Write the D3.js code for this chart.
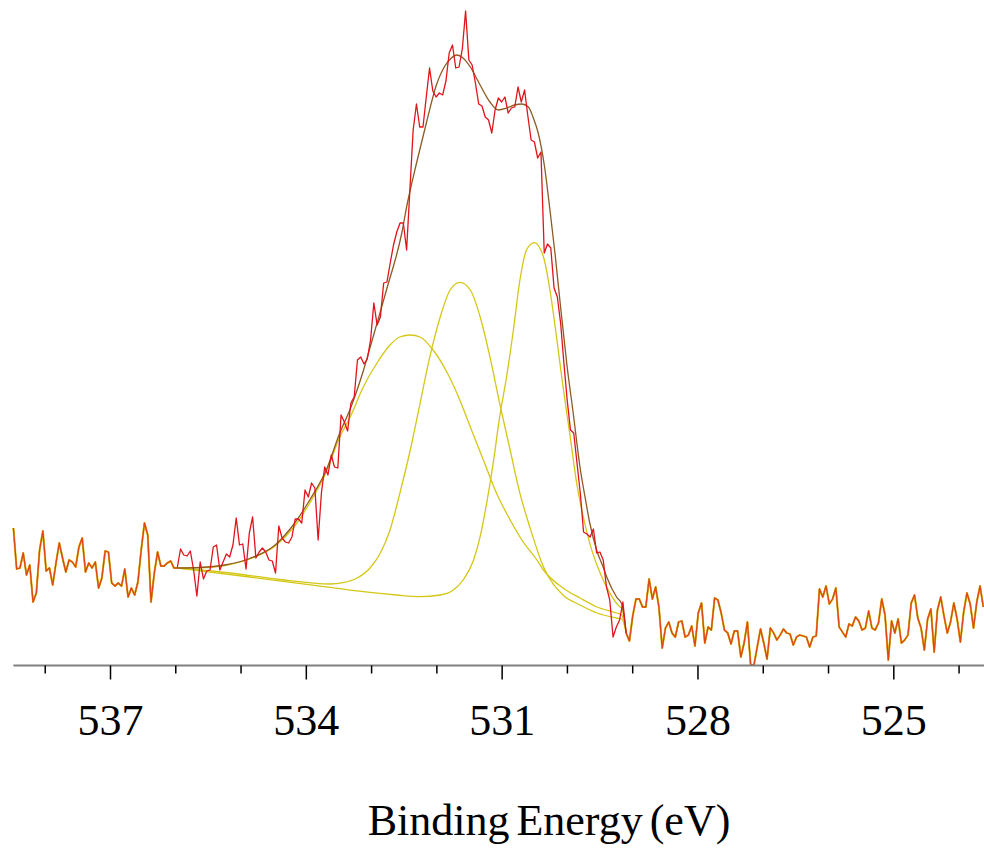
<!DOCTYPE html>
<html>
<head>
<meta charset="utf-8">
<script src="https://cdn.jsdelivr.net/npm/d3@7"></script>
<style>
  html, body { margin: 0; padding: 0; background: #ffffff; }
  svg { display: block; }
</style>
</head>
<body>
<svg id="chart" width="984" height="848"></svg>
<script>
// O 1s spectrum: binding-energy grid (eV) and measured intensity (a.u.)
const energyStart = 538.48;
const energyStep = 0.0502;
const counts = [
  137, 96, 97, 112, 90, 100, 63, 72, 115, 134,
  94, 97, 80, 102, 122, 107, 93, 105, 103, 98,
  118, 127, 93, 102, 97, 103, 77, 87, 114, 113,
  82, 79, 82, 79, 96, 68, 77, 70, 83, 115,
  142, 130, 63, 92, 113, 99, 99, 102, 104, 97,
  97, 116, 110, 109, 114, 95, 69, 103, 86, 94,
  95, 118, 120, 95, 103, 111, 108, 120, 147, 120,
  121, 96, 132, 148, 107, 113, 117, 113, 105, 104,
  92, 139, 127, 123, 122, 128, 146, 146, 142, 175,
  168, 182, 177, 125, 172, 198, 190, 210, 198, 197,
  250, 243, 234, 262, 268, 305, 308, 301, 306, 325,
  362, 340, 348, 382, 383, 402, 420, 433, 442, 442,
  415, 475, 535, 561, 538, 538, 568, 597, 574, 568,
  572, 570, 584, 612, 620, 597, 598, 616, 654, 605,
  600, 582, 561, 559, 548, 545, 532, 555, 567, 563,
  568, 552, 557, 558, 578, 563, 575, 549, 525, 523,
  507, 513, 412, 421, 417, 377, 368, 342, 302, 265,
  235, 232, 202, 172, 133, 131, 128, 136, 112, 113,
  105, 78, 65, 28, 38, 45, 63, 32, 24, 49,
  66, 66, 58, 58, 86, 66, 78, 58, 17, 37,
  43, 32, 28, 43, 44, 28, 30, 39, 19, 52,
  62, 22, 38, 35, 67, 65, 52, 35, 32, 21,
  34, 34, 8, 22, 43, 0, 0, 18, 36, 22,
  6, 37, 32, 25, 30, 36, 32, 31, 20, 28,
  30, 29, 28, 18, 28, 29, 76, 68, 79, 61,
  66, 77, 38, 33, 28, 41, 39, 48, 44, 35,
  37, 54, 37, 35, 42, 66, 50, 5, 44, 32,
  46, 22, 25, 30, 62, 70, 47, 37, 15, 46,
  56, 13, 55, 68, 49, 32, 43, 62, 46, 23,
  53, 72, 61, 37, 63, 79, 58
];

// fitted region limits (eV)
const fitHigh = 535.97;
const fitLow = 529.14;

// fitted components [binding energy, intensity], each sitting on the linear background
const peakBroad = [
  [535.97, 97], [535.62, 97.3], [535.24, 99.5], [534.86, 106], [534.47, 119],
  [534.17, 139], [533.94, 162], [533.68, 194], [533.48, 228], [533.32, 248],
  [533.12, 278], [532.91, 302], [532.71, 320], [532.56, 328], [532.40, 330],
  [532.25, 328], [532.05, 315], [531.84, 293], [531.66, 268], [531.48, 238],
  [531.28, 205], [531.08, 172], [530.87, 145], [530.67, 123], [530.46, 105],
  [530.36, 95], [530.06, 77], [529.80, 67], [529.54, 58], [529.24, 52], [529.16, 50]
];
const peakMiddle = [
  [535.97, 97], [535.16, 92], [534.40, 85.5], [533.63, 81], [533.43, 82.3],
  [533.22, 86.7], [533.02, 96.7], [532.86, 111.7], [532.71, 135], [532.56, 171.7],
  [532.40, 215], [532.25, 261.7], [532.10, 308.3], [531.94, 348.3], [531.79, 375],
  [531.64, 382.7], [531.48, 375], [531.33, 348.3], [531.18, 308.3], [531.03, 261.7],
  [530.87, 215], [530.72, 171.7], [530.57, 138.3], [530.36, 98.3], [530.06, 70],
  [529.80, 60], [529.54, 52], [529.24, 47], [529.16, 46]
];
const peakLow = [
  [535.97, 97], [534.86, 88], [533.63, 77.7], [533.12, 73.3], [532.61, 70],
  [532.25, 68.3], [531.94, 70], [531.74, 75], [531.59, 85], [531.43, 105],
  [531.33, 128.3], [531.23, 161.7], [531.13, 201.7], [531.03, 248.3], [530.92, 290],
  [530.82, 335], [530.72, 385], [530.62, 415], [530.50, 422.3], [530.36, 408.3],
  [530.26, 375], [530.16, 328.3], [530.06, 278.3], [529.95, 228.3], [529.85, 181.7],
  [529.75, 148.3], [529.65, 121.7], [529.49, 91.7], [529.34, 71.7], [529.19, 58.3],
  [529.16, 57]
];
const envelope = [
  [535.97, 97], [535.62, 97.5], [535.24, 100], [534.86, 106.5], [534.47, 120],
  [534.17, 142], [533.94, 165], [533.68, 196], [533.48, 232], [533.32, 256],
  [533.12, 294], [532.97, 328], [532.76, 376], [532.53, 432], [532.45, 460],
  [532.30, 503], [532.15, 543], [532.00, 580], [531.87, 599], [531.77, 607],
  [531.69, 610], [531.61, 608], [531.48, 598], [531.33, 580], [531.18, 563],
  [531.05, 555], [530.92, 557], [530.80, 560], [530.69, 561], [530.59, 558],
  [530.52, 548], [530.44, 532], [530.34, 497], [530.26, 455], [530.18, 410],
  [530.11, 366], [530.00, 300], [529.90, 250], [529.80, 198], [529.72, 167],
  [529.65, 142], [529.54, 114], [529.44, 97], [529.39, 88], [529.24, 68], [529.16, 61]
];

// axis
const majorTicks = [537, 534, 531, 528, 525];
const minorTicks = [538, 536, 535, 533, 532, 530, 529, 527, 526, 524];
const axisExtent = [538.48, 523.6];
const axisTitle = "Binding Energy (eV)";

const colors = { data: "#e2131b", envelope: "#8e5a22", component: "#d4c716", axis: "#808080" };
const serif = "'Liberation Serif', 'Times New Roman', Times, serif";

const spectrum = counts.map((c, i) => ({ e: energyStart - i * energyStep, c }));

const svg = d3.select("#chart");
const x = d3.scaleLinear().domain([537, 525]).range([110, 893.3]);
const y = d3.scaleLinear().domain([0, 665]).range([665, 0]);
const baseY = y(0) + 0.5;

const dataLine = d3.line().x(d => x(d.e)).y(d => y(d.c));
const fitLine = d3.line().x(d => x(d[0])).y(d => y(d[1])).curve(d3.curveMonotoneX);

// the fit curves rejoin the measured data at the upper end of the region
const lastFitPoint = spectrum.find(d => d.e <= fitLow + 1e-6);
const withJoin = arr => arr.concat([[lastFitPoint.e, lastFitPoint.c]]);

const plot = svg.append("g");

[peakBroad, peakMiddle, peakLow].forEach(comp => {
  plot.append("path")
    .attr("d", fitLine(withJoin(comp)))
    .attr("fill", "none")
    .attr("stroke", colors.component)
    .attr("stroke-width", 1.3);
});

plot.append("path")
  .attr("d", fitLine(withJoin(envelope)))
  .attr("fill", "none")
  .attr("stroke", colors.envelope)
  .attr("stroke-width", 1.3);

plot.append("path")
  .attr("d", dataLine(spectrum))
  .attr("fill", "none")
  .attr("stroke", colors.data)
  .attr("stroke-width", 1.3)
  .attr("stroke-linejoin", "round");

// outside the fitted region the components and envelope follow the data
const outsideLeft = spectrum.filter(d => d.e >= fitHigh - 1e-6);
const outsideRight = spectrum.filter(d => d.e <= fitLow + 1e-6);
[outsideLeft, outsideRight].forEach(seg => {
  plot.append("path")
    .attr("d", dataLine(seg))
    .attr("fill", "none")
    .attr("stroke", colors.component)
    .attr("stroke-width", 2.1)
    .attr("stroke-linejoin", "round");
  plot.append("path")
    .attr("d", dataLine(seg))
    .attr("fill", "none")
    .attr("stroke", colors.data)
    .attr("stroke-opacity", 0.72)
    .attr("stroke-width", 1.3)
    .attr("stroke-linejoin", "round");
});

// x axis
const axisG = svg.append("g");
axisG.append("line")
  .attr("x1", x(axisExtent[0])).attr("x2", x(axisExtent[1]))
  .attr("y1", baseY).attr("y2", baseY)
  .attr("stroke", colors.axis)
  .attr("stroke-width", 2);

const minorAxis = svg.append("g")
  .attr("transform", `translate(0,${baseY})`)
  .call(d3.axisBottom(x).tickValues(minorTicks).tickSize(8).tickFormat(""));
minorAxis.select(".domain").remove();
minorAxis.selectAll(".tick line").attr("stroke", "#000").attr("stroke-width", 1.5);

const majorAxis = svg.append("g")
  .attr("transform", `translate(0,${baseY})`)
  .call(d3.axisBottom(x).tickValues(majorTicks).tickSize(14).tickFormat(d3.format("d")));
majorAxis.select(".domain").remove();
majorAxis.selectAll(".tick line").attr("stroke", "#000").attr("stroke-width", 1.5);
majorAxis.selectAll(".tick text")
  .attr("y", 69.5)
  .attr("dy", 0)
  .attr("fill", "#000")
  .style("font-family", serif)
  .style("font-size", "44px");

svg.append("text")
  .attr("x", 549)
  .attr("y", 835)
  .attr("text-anchor", "middle")
  .attr("fill", "#000")
  .style("font-family", serif)
  .style("font-size", "44px")
  .style("word-spacing", "-4px")
  .text(axisTitle);
</script>
</body>
</html>
